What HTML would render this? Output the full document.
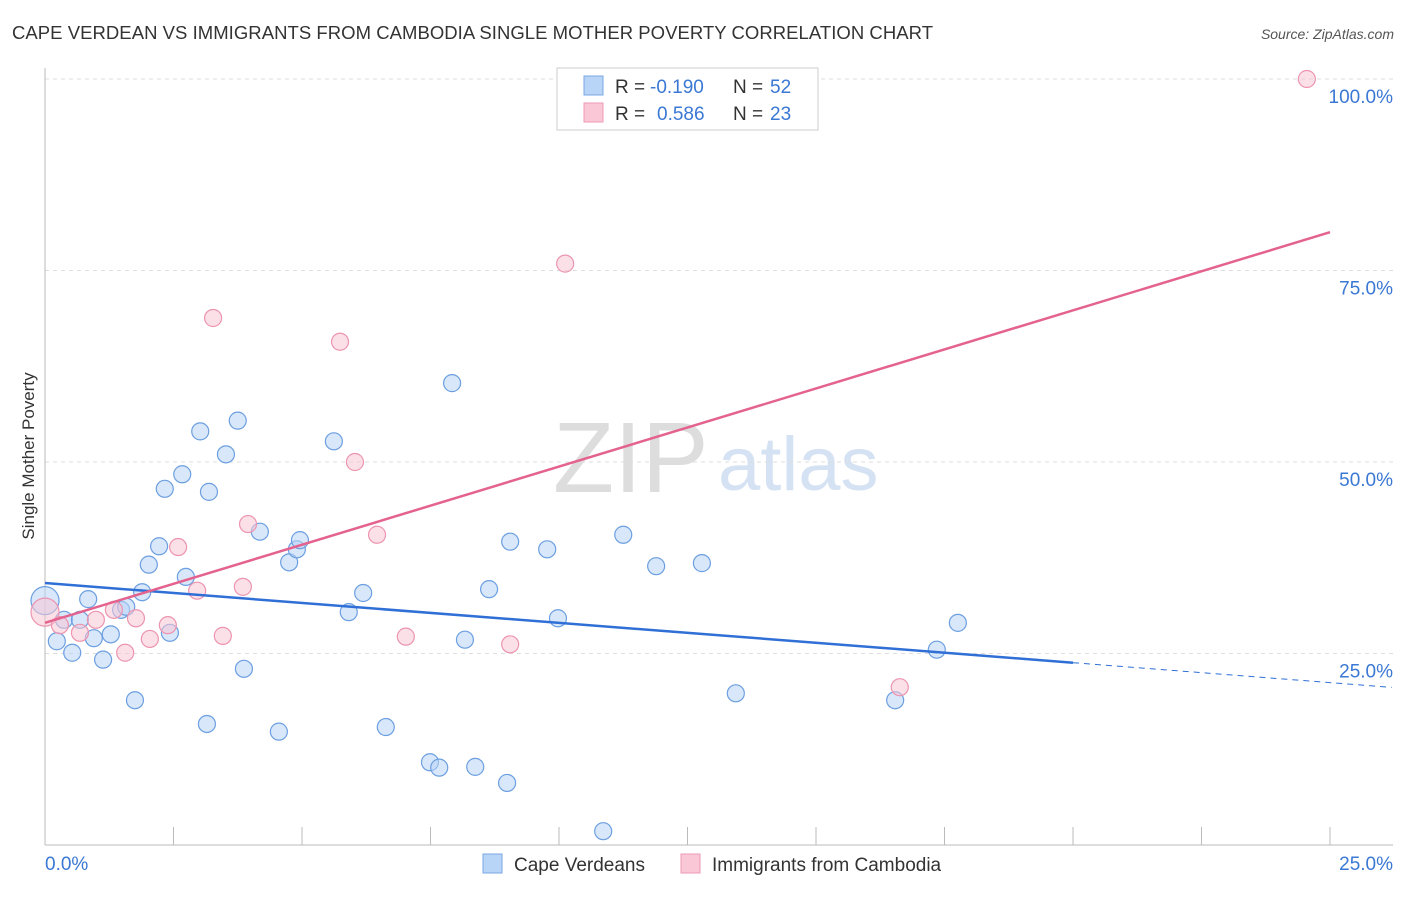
<!DOCTYPE html>
<html><head><meta charset="utf-8"><style>
body{margin:0;background:#fff;font-family:"Liberation Sans",sans-serif;}
svg text{font-family:"Liberation Sans",sans-serif;}
</style></head><body>
<svg id="chart" width="1406" height="892">
<text x="12" y="39" font-size="18.5" fill="#333" textLength="921">CAPE VERDEAN VS IMMIGRANTS FROM CAMBODIA SINGLE MOTHER POVERTY CORRELATION CHART</text>
<text x="1394" y="39" font-size="14" fill="#555" font-style="italic" text-anchor="end">Source: ZipAtlas.com</text>
<text x="0" y="0" transform="translate(34,456) rotate(-90)" font-size="17" fill="#333" text-anchor="middle">Single Mother Poverty</text>
<g><text x="553" y="492" font-size="100" fill="#ddd" font-family="Liberation Serif">ZIP</text><text x="718" y="490" font-size="76" fill="#d5e2f3">atlas</text></g>
<g id="grid"></g><g id="axes"></g><g id="marks"></g><g id="lines"></g>
<g>
<rect x="557" y="68" width="261" height="62" fill="#fff" stroke="#ccc"/>
<rect x="584" y="76" width="19" height="19" fill="#b8d4f6" stroke="#7aa8e6"/>
<rect x="584" y="103" width="19" height="19" fill="#f9c7d6" stroke="#ee9ab4"/>
<text x="615" y="93" font-size="19" fill="#333">R =</text>
<text x="650" y="93" font-size="19" fill="#3a78d4">-0.190</text>
<text x="733" y="93" font-size="19" fill="#333">N =</text>
<text x="770" y="93" font-size="19" fill="#3a78d4">52</text>
<text x="615" y="120" font-size="19" fill="#333">R =</text>
<text x="657" y="120" font-size="19" fill="#3a78d4">0.586</text>
<text x="733" y="120" font-size="19" fill="#333">N =</text>
<text x="770" y="120" font-size="19" fill="#3a78d4">23</text>
</g>
<g>
<rect x="483" y="854" width="19" height="19" fill="#b8d4f6" stroke="#7aa8e6"/>
<text x="514" y="871" font-size="19" fill="#333">Cape Verdeans</text>
<rect x="681" y="854" width="19" height="19" fill="#f9c7d6" stroke="#ee9ab4"/>
<text x="712" y="871" font-size="19" fill="#333">Immigrants from Cambodia</text>
</g>
</svg>
<script>
const blueX=[0,0.23,0.37,0.53,0.68,0.84,0.95,1.13,1.28,1.48,1.58,1.75,1.89,2.02,2.22,2.33,2.43,2.67,2.74,3.02,3.15,3.19,3.52,3.75,3.87,4.18,4.55,4.75,4.90,4.96,5.62,5.91,6.19,6.63,7.49,7.67,7.92,8.17,8.37,8.64,8.99,9.05,9.77,9.98,10.86,11.25,11.89,12.78,13.44,16.54,17.35,17.76];
const blueY=[31.9,26.6,29.4,25.1,29.4,32.1,27.0,24.2,27.5,30.7,31.1,18.9,33.0,36.6,39.0,46.5,27.7,48.4,35.0,54.0,15.8,46.1,51.0,55.4,23.0,40.9,14.8,36.9,38.6,39.8,52.7,30.4,32.9,15.4,10.8,10.1,60.3,26.8,10.2,33.4,8.1,39.6,38.6,29.6,1.8,40.5,36.4,36.8,19.8,18.9,25.5,29.0];
const pinkX=[0,0.29,0.68,0.99,1.34,1.56,1.77,2.04,2.39,2.59,2.96,3.27,3.46,3.85,3.95,5.74,6.03,6.46,7.02,9.05,10.12,16.63,24.55];
const pinkY=[30.4,28.7,27.7,29.4,30.7,25.1,29.6,26.9,28.7,38.9,33.2,68.8,27.3,33.7,41.9,65.7,50.0,40.5,27.2,26.2,75.9,20.6,100];
const blueTrend=[34.2,-0.52];
const pinkTrend=[29.0,2.04];
const yTicks=[25,50,75,100];
const xTickVals=[0,2.5,5,7.5,10,12.5,15,17.5,20,22.5,25];
const NS='http://www.w3.org/2000/svg';
const sx=v=>45+v/25*1285, sy=v=>845-v/100*766;
function mk(p,t,a){const e=document.createElementNS(NS,t);for(const k in a)e.setAttribute(k,a[k]);document.getElementById(p).appendChild(e);return e;}
yTicks.forEach(t=>{
 const g=mk('grid','line',{x1:45,x2:1393,y1:sy(t),y2:sy(t),stroke:'#ddd','stroke-dasharray':'4,4'});
 
 
 const l=mk('axes','text',{x:1393,y:sy(t)+24,'font-size':19,fill:'#3a78d4','text-anchor':'end'});l.textContent=t.toFixed(1)+'%';
 
 
});
const ax=mk('axes','line',{x1:45,x2:45,y1:68,y2:845,stroke:'#bbb'});


const bx=mk('axes','line',{x1:45,x2:1393,y1:845,y2:845,stroke:'#bbb'});


xTickVals.forEach(t=>{const k=mk('axes','line',{x1:sx(t),x2:sx(t),y1:827,y2:845,stroke:'#bbb'});
 
 });
[[0,'start','0.0%'],[25,'end','25.0%']].forEach(([v,a,s])=>{const l=mk('axes','text',{x:v==0?45:1393,y:870,'font-size':19,fill:'#3a78d4','text-anchor':a});l.textContent=s;
 
 });
function pts(X,Y,f,s,name){X.forEach((x,i)=>{const c=mk('marks','circle',{cx:sx(x),cy:sy(Y[i]),r:i==0?14:8.5,fill:f,'fill-opacity':0.55,stroke:s,'stroke-width':1.2});
 
 });}
pts(blueX,blueY,'#b8d4f6','#6c9fe0','cape-verdean-point');
pts(pinkX,pinkY,'#f9c7d6','#ec94b0','cambodia-point');
const tl=(x1,x2,tr,c,d,n)=>{const l=mk('lines','line',{x1:sx(x1),x2:sx(x2),y1:sy(tr[0]+tr[1]*x1),y2:sy(tr[0]+tr[1]*x2),stroke:c,'stroke-width':d?1:2.5,'stroke-dasharray':d?'6,5':'none'});
 
 };
tl(0,20,blueTrend,'#2f6fd6',false,'cape-verdean-trendline');
tl(20,26.2,blueTrend,'#2f6fd6',true,'cape-verdean-trendline-extension');
tl(0,25,pinkTrend,'#e4638e',false,'cambodia-trendline');
</script>
</body></html>
